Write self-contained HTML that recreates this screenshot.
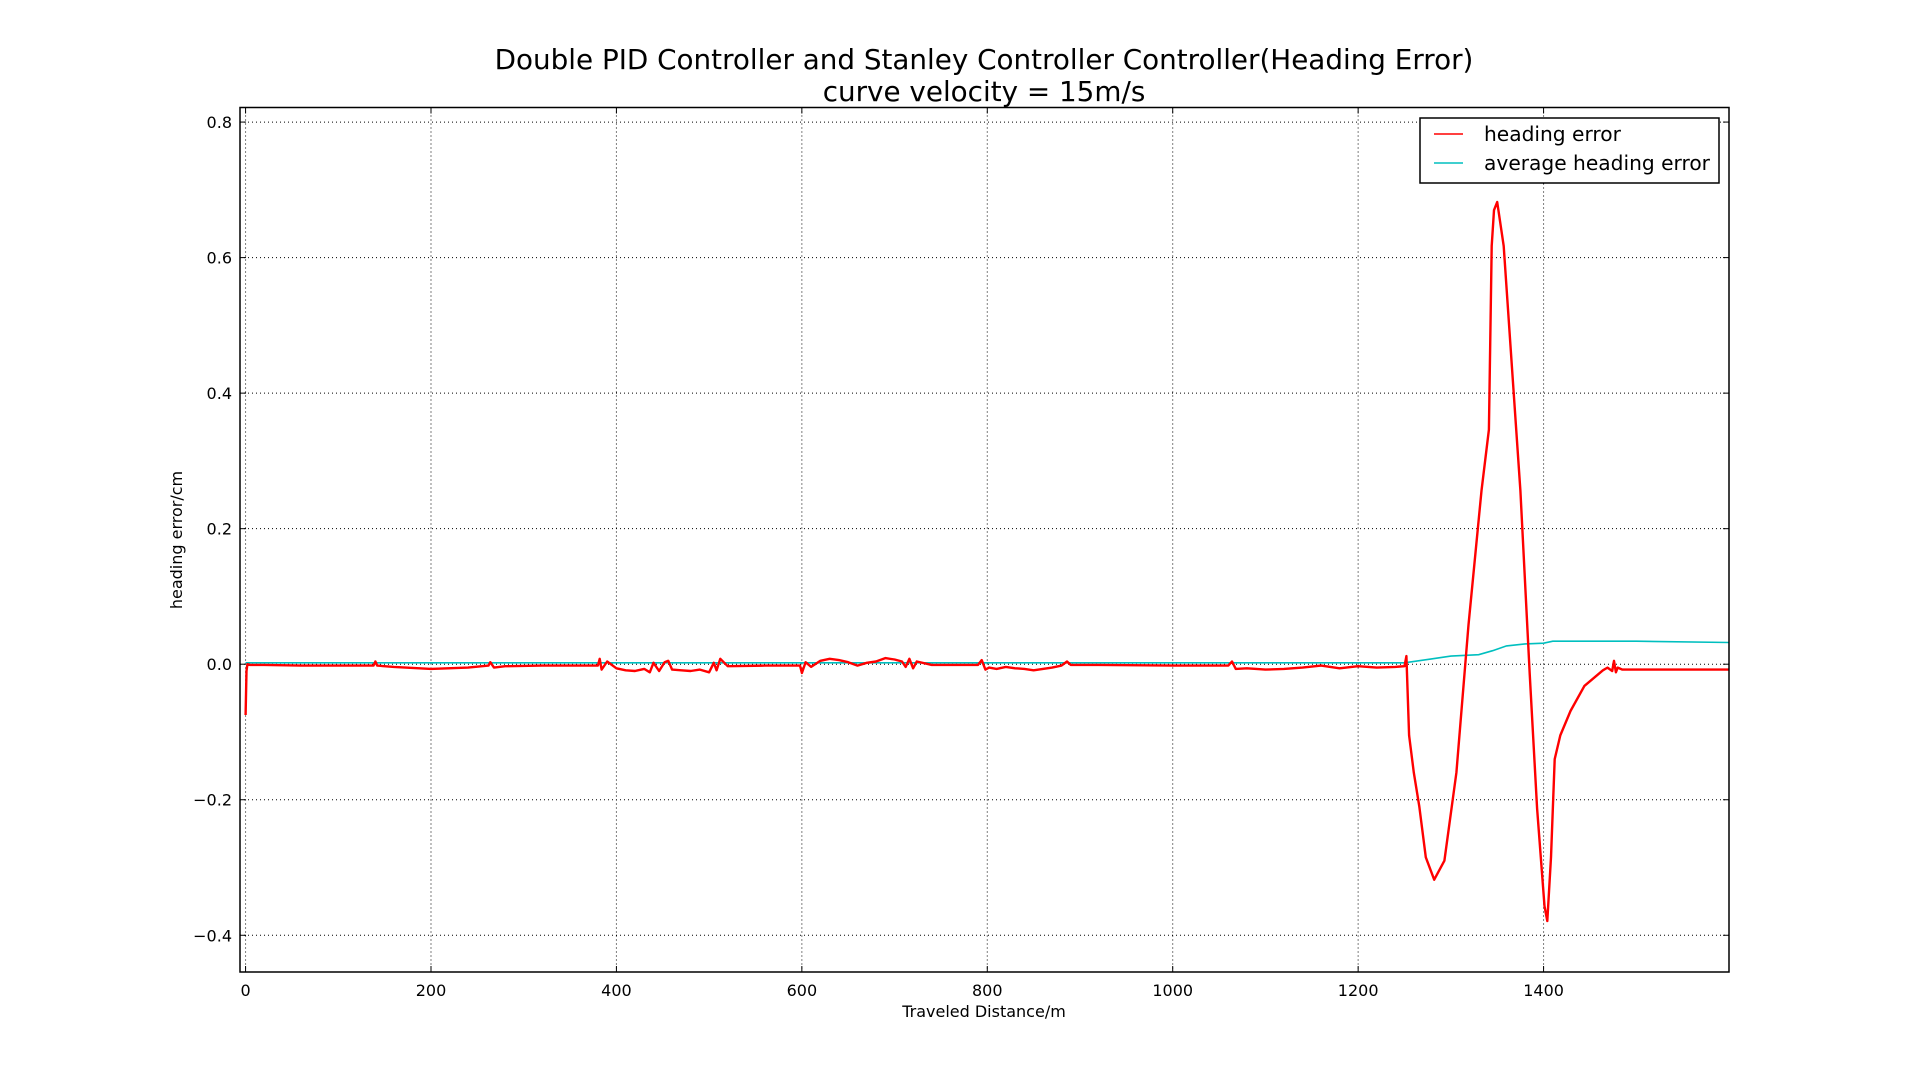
<!DOCTYPE html>
<html><head><meta charset="utf-8"><style>
html,body{margin:0;padding:0;background:#fff;}
svg{display:block;font-family:"DejaVu Sans","Liberation Sans",sans-serif;}
</style></head><body>
<svg id="chart" width="1920" height="1080" viewBox="0 0 1920 1080" xmlns="http://www.w3.org/2000/svg">
<rect width="1920" height="1080" fill="#fff"/>
<text x="984" y="69" font-size="27.8" text-anchor="middle">Double PID Controller and Stanley Controller Controller(Heading Error)</text>
<text x="984" y="101" font-size="27.8" text-anchor="middle">curve velocity = 15m/s</text>
<g id="grid"></g>
<g id="series"></g>
<rect x="240" y="107.5" width="1489" height="864.5" fill="none" stroke="#000" stroke-width="1.5"/>
<g id="ticks"></g>
<text x="984" y="1017" font-size="16" text-anchor="middle">Traveled Distance/m</text>
<text transform="translate(182,540) rotate(-90)" font-size="16" text-anchor="middle">heading error/cm</text>
<g>
<rect x="1420" y="118" width="299" height="65" fill="#fff" stroke="#000" stroke-width="1.5"/>
<line x1="1434" y1="134" x2="1463" y2="134" stroke="#f00" stroke-width="1.5"/>
<text x="1484" y="141" font-size="20.2">heading error</text>
<line x1="1434" y1="163" x2="1463" y2="163" stroke="#00bfbf" stroke-width="1.5"/>
<text x="1484" y="170" font-size="20.2">average heading error</text>
</g>
</svg>
<script>
const xTicks=[0,200,400,600,800,1000,1200,1400];
const yTicks=[-0.4,-0.2,0.0,0.2,0.4,0.6,0.8];
const yTickLabels=["\u22120.4","\u22120.2","0.0","0.2","0.4","0.6","0.8"];
const errX=[0,1,2,5,20,60,100,138,140,142,160,200,240,262,264,268,280,320,380,382,384,390,400,410,420,430,436,440,446,452,456,460,470,480,490,500,505,508,512,520,560,598,600,604,610,620,630,640,650,660,670,680,690,700,708,712,716,720,724,740,790,794,798,802,810,820,830,840,850,860,870,880,886,890,920,1000,1060,1064,1068,1080,1100,1120,1140,1160,1180,1200,1220,1240,1250,1252,1255,1260,1266,1273,1282,1293,1306,1319,1333,1341,1344,1346.5,1350,1357,1366,1375,1385,1393,1401,1404,1408,1412,1418,1429,1444,1464,1469,1474,1476,1478,1480,1485,1500,1550,1600];
const errY=[-0.075,-0.01,0.0,-0.001,-0.001,-0.002,-0.002,-0.002,0.004,-0.002,-0.004,-0.007,-0.005,-0.002,0.003,-0.005,-0.003,-0.002,-0.002,0.008,-0.008,0.004,-0.006,-0.009,-0.01,-0.007,-0.012,0.002,-0.01,0.003,0.005,-0.008,-0.009,-0.01,-0.008,-0.012,0.002,-0.009,0.008,-0.003,-0.002,-0.002,-0.013,0.003,-0.004,0.005,0.008,0.006,0.003,-0.002,0.002,0.004,0.009,0.007,0.004,-0.004,0.008,-0.006,0.004,-0.001,-0.001,0.006,-0.008,-0.005,-0.007,-0.004,-0.006,-0.007,-0.009,-0.007,-0.005,-0.002,0.004,-0.001,-0.001,-0.002,-0.002,0.004,-0.007,-0.006,-0.008,-0.007,-0.005,-0.002,-0.006,-0.003,-0.005,-0.004,-0.003,0.012,-0.105,-0.16,-0.21,-0.285,-0.318,-0.29,-0.16,0.058,0.256,0.346,0.617,0.67,0.682,0.617,0.437,0.256,-0.014,-0.213,-0.357,-0.379,-0.285,-0.14,-0.105,-0.069,-0.032,-0.009,-0.005,-0.01,0.005,-0.012,-0.005,-0.008,-0.008,-0.008,-0.008];
const avgX=[0,200,600,1000,1250,1280,1300,1330,1345,1360,1380,1400,1410,1430,1500,1600];
const avgY=[0.002,0.002,0.002,0.002,0.002,0.008,0.012,0.014,0.02,0.027,0.03,0.031,0.034,0.034,0.034,0.032];
const X0=240,X1=1729,Y0=107.5,Y1=972;
const xMin=-6,xMax=1600,yMin=-0.4542,yMax=0.8215;
function sx(v){return X0+(v-xMin)/(xMax-xMin)*(X1-X0);}
function sy(v){return Y1-(v-yMin)/(yMax-yMin)*(Y1-Y0);}
const NS="http://www.w3.org/2000/svg";
const grid=document.getElementById('grid'),ticks=document.getElementById('ticks'),series=document.getElementById('series');
function mk(tag,attrs,parent){const e=document.createElementNS(NS,tag);for(const k in attrs)e.setAttribute(k,attrs[k]);parent.appendChild(e);return e;}
xTicks.forEach(function(t){
  const x=sx(t);
  const g=mk('line',{x1:x,y1:Y0,x2:x,y2:Y1,stroke:'#000','stroke-width':1,'stroke-dasharray':'1,3'},grid);
  
  
  const a=mk('line',{x1:x,y1:Y1,x2:x,y2:Y1-6,stroke:'#000','stroke-width':1},ticks);
  
  
  const b=mk('line',{x1:x,y1:Y0,x2:x,y2:Y0+6,stroke:'#000','stroke-width':1},ticks);
  
  
  const l=mk('text',{x:x,y:Y1+24,'font-size':16,'text-anchor':'middle'},ticks);
  l.textContent=String(t);
  
  
});
yTicks.forEach(function(t,i){
  const y=sy(t);
  const g=mk('line',{x1:X0,y1:y,x2:X1,y2:y,stroke:'#000','stroke-width':1,'stroke-dasharray':'1,3'},grid);
  
  
  const a=mk('line',{x1:X0,y1:y,x2:X0+6,y2:y,stroke:'#000','stroke-width':1},ticks);
  
  
  const b=mk('line',{x1:X1,y1:y,x2:X1-6,y2:y,stroke:'#000','stroke-width':1},ticks);
  
  
  const l=mk('text',{x:X0-8,y:y+6,'font-size':16,'text-anchor':'end'},ticks);
  l.textContent=yTickLabels[i];
  
  
});
function pts(xs,ys){return xs.map(function(v,i){return sx(v).toFixed(1)+','+sy(ys[i]).toFixed(1);}).join(' ');}
const avg=mk('polyline',{points:pts(avgX,avgY),fill:'none',stroke:'#00bfbf','stroke-width':1.6},series);


const err=mk('polyline',{points:pts(errX,errY),fill:'none',stroke:'#f00','stroke-width':2.4,'stroke-linejoin':'round'},series);


</script>
</body></html>
